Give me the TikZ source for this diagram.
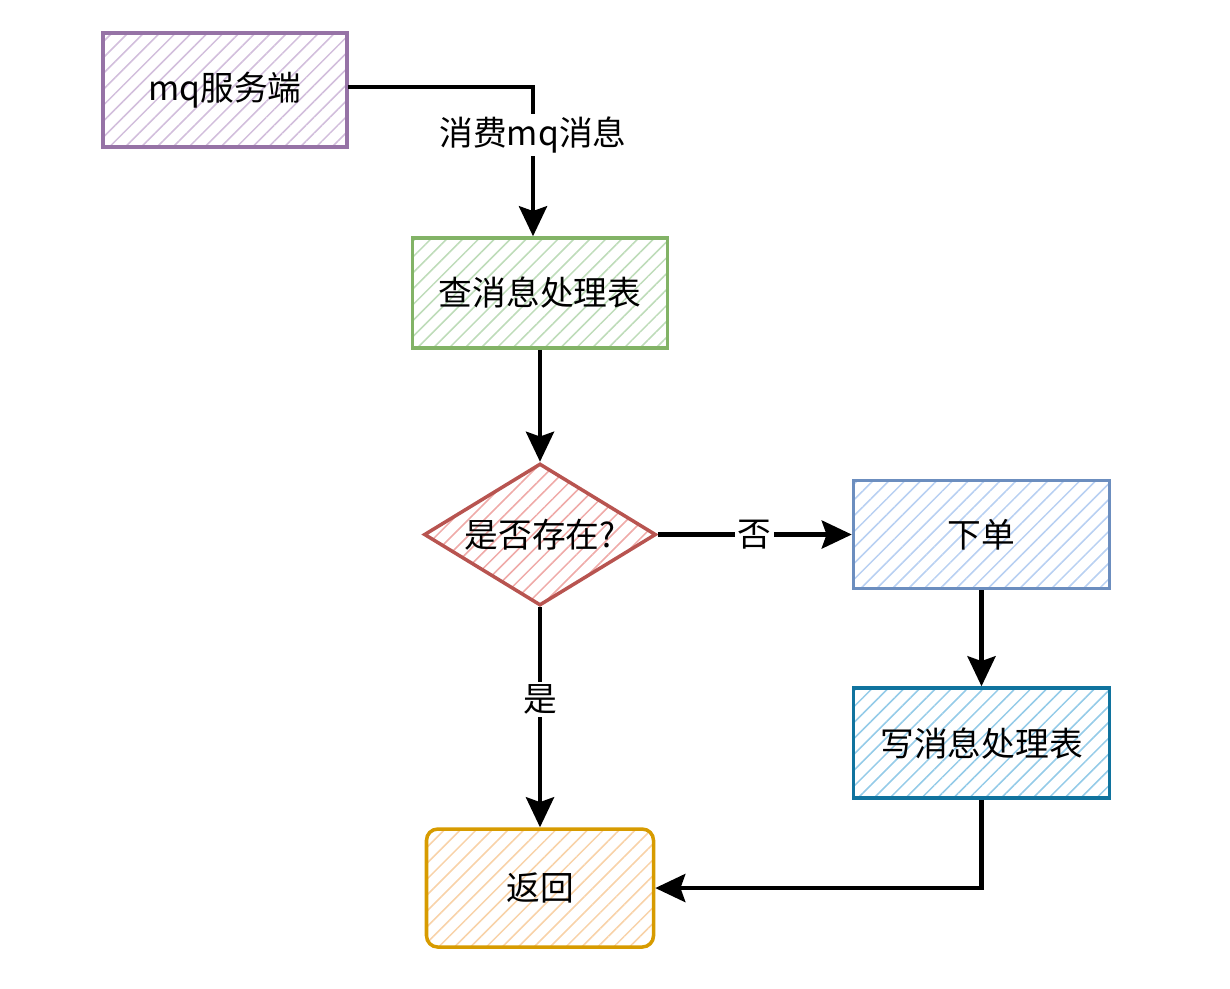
\documentclass[tikz,border=0pt]{standalone}
\usepackage{fontspec}
\setmainfont{Noto Sans CJK SC}
\usepackage{xcolor}
\usetikzlibrary{shapes.geometric, arrows.meta, positioning, patterns.meta}

\definecolor{purpleline}{HTML}{9673A6}
\definecolor{purplefill}{HTML}{D2BEDC}
\definecolor{greenline}{HTML}{82B366}
\definecolor{greenfill}{HTML}{BEDCB9}
\definecolor{redline}{HTML}{B85450}
\definecolor{redfill}{HTML}{EFAAA8}
\definecolor{blueline}{HTML}{6C8EBF}
\definecolor{bluefill}{HTML}{B8D0F2}
\definecolor{tealline}{HTML}{10739E}
\definecolor{tealfill}{HTML}{94CBE8}
\definecolor{orangeline}{HTML}{D79B00}
\definecolor{orangefill}{HTML}{F8D2A8}

\begin{document}
\begin{tikzpicture}[
    font=\fontsize{24}{29}\selectfont,
    >={Stealth[length=0.75cm, width=0.7cm, inset=0.12cm]},
    sketch/.style={draw=#1line, line width=2.5pt,
        pattern={Lines[angle=45, distance=8pt, line width=1.1pt]}, pattern color=#1fill},
    box/.style={rectangle, sketch=#1, minimum width=6.4cm, minimum height=2.75cm, align=center},
    check/.style={diamond, sketch=#1, minimum width=5.8cm, minimum height=3.55cm, aspect=1.63, inner sep=0pt},
    flow/.style={->, line width=3.2pt},
    tag/.style={fill=white, inner sep=2pt},
]
    \useasboundingbox (0,0) rectangle (30.75,-24.7);

    \node[box=purple, minimum width=6.1cm, minimum height=2.85cm] (server) at (5.625,-2.25) {mq服务端};
    \node[box=green, minimum width=6.375cm] (lookup) at (13.5,-7.325) {查消息处理表};
    \node[check=red, below=2.8cm of lookup] (exists) {是否存在?};
    \node[box=blue, minimum height=2.7cm, right=4.85cm of exists] (order) {下单};
    \node[box=teal, below=2.4cm of order] (record) {写消息处理表};
    \node[box=orange, rounded corners=8pt, minimum width=5.675cm, minimum height=2.95cm, below=5.5cm of exists] (reply) {返回};

    % connectors
    \draw[flow] ([yshift=0.075cm]server.east) -| node[tag, pos=0.66] {消费mq消息} ([xshift=-0.175cm]lookup.north);
    \draw[flow] (lookup) -- (exists);
    \draw[flow] (exists) -- node[tag] {否} (order);
    \draw[flow] (exists) -- node[tag, pos=0.42] {是} (reply);
    \draw[flow] (order) -- (record);
    \draw[flow] (record.south) |- (reply.east);
\end{tikzpicture}
\end{document}
